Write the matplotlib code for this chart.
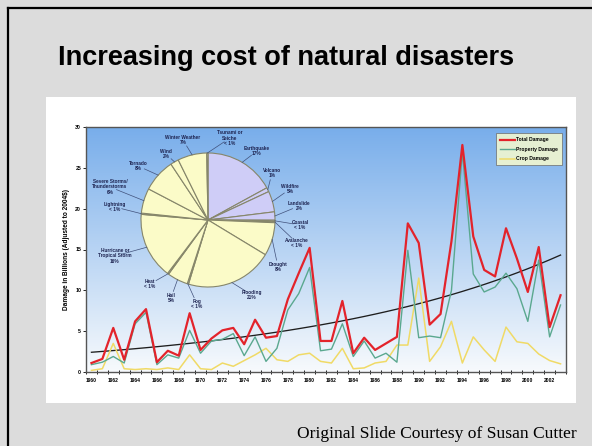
import matplotlib
matplotlib.use("Agg")
import matplotlib.pyplot as plt
import numpy as np
from matplotlib.patches import Rectangle
from matplotlib.lines import Line2D

# data
years = list(range(1960, 2004))
total_damage = [1.1, 1.6, 5.4, 1.5, 6.2, 7.7, 1.2, 2.6, 2.0, 7.2,
                2.7, 4.1, 5.1, 5.4, 3.4, 6.4, 4.2, 4.4, 8.9, 12.1,
                15.2, 3.8, 3.8, 8.7, 2.3, 4.2, 2.7, 3.5, 4.3, 18.2,
                15.8, 5.8, 7.1, 16.0, 27.8, 16.6, 12.5, 11.7, 17.6, 13.9,
                9.8, 15.3, 5.5, 9.4]
property_damage = [0.9, 1.2, 1.9, 1.1, 5.9, 7.3, 0.9, 2.1, 1.7, 5.1,
                   2.3, 3.8, 4.0, 4.7, 2.0, 4.3, 1.3, 2.9, 7.6, 9.6,
                   12.8, 2.6, 2.8, 5.9, 1.9, 3.8, 1.7, 2.3, 1.2, 14.9,
                   4.2, 4.4, 4.2, 10.0, 27.0, 12.0, 9.8, 10.4, 12.1, 10.2,
                   6.2, 13.7, 4.3, 8.2]
crop_damage = [0.2, 0.4, 3.5, 0.4, 0.3, 0.4, 0.3, 0.5, 0.3, 2.1,
               0.4, 0.3, 1.1, 0.7, 1.4, 2.1, 2.9, 1.5, 1.3, 2.1,
               2.3, 1.3, 1.1, 2.9, 0.4, 0.5, 1.1, 1.3, 3.3, 3.3,
               11.5, 1.3, 3.1, 6.2, 1.1, 4.3, 2.7, 1.3, 5.5, 3.7,
               3.5, 2.2, 1.4, 1.0]

hazards = ["Earthquake\n17%", "Volcano\n1%", "Wildfire\n5%", "Landslide\n2%",
           "Coastal\n< 1%", "Avalanche\n< 1%", "Drought\n8%", "Flooding\n21%",
           "Fog\n< 1%", "Hail\n5%", "Heat\n< 1%",
           "Hurricane or\nTropical Storm\n16%", "Lightning\n< 1%",
           "Severe Storms/\nThunderstorms\n6%", "Tornado\n8%", "Wind\n2%",
           "Winter Weather\n7%", "Tsunami or\nSeiche\n< 1%"]
hazard_share = [17, 1, 5, 2, 0.3, 0.3, 8, 21, 0.3, 5, 0.3, 16, 0.3, 6, 8, 2, 7, 0.3]
geologic = [True] * 5 + [False] * 13

# label centres on the slide, in pixels from the top left
label_xy = [(257, 151), (272, 173), (290, 189), (299, 206), (300, 225),
            (297, 243), (278, 267), (252, 295), (197, 304), (171, 298),
            (150, 284), (115, 256), (115, 207), (110, 187), (138, 166),
            (166, 154), (183, 140), (230, 138)]

W, H = 592, 446
fig = plt.figure(figsize=(W / 100, H / 100), dpi=100)
fig.patch.set_facecolor("#dcdcdc")

# slide frame and white picture box
fig.add_artist(Line2D([8 / W, 8 / W], [0, 1 - 8 / H], transform=fig.transFigure,
                      color="black", lw=1.6))
fig.add_artist(Line2D([8 / W, 1], [1 - 8 / H, 1 - 8 / H], transform=fig.transFigure,
                      color="black", lw=1.6))
fig.add_artist(Rectangle((46 / W, 1 - 403 / H), 530 / W, 306 / H,
                         transform=fig.transFigure, facecolor="white",
                         edgecolor="none", zorder=0))

fig.text(58 / W, 1 - 65 / H, "Increasing cost of natural disasters",
         family="Liberation Sans", weight="bold", fontsize=19.5,
         ha="left", va="baseline")
fig.text(577 / W, 1 - 438 / H, "Original Slide Courtesy of Susan Cutter",
         family="Liberation Serif", fontsize=12.6, ha="right", va="baseline")

small = ["Liberation Sans Narrow", "Liberation Sans", "DejaVu Sans"]

ax = fig.add_axes([86 / W, 1 - 372 / H, 480 / W, 245 / H])
x = np.arange(len(years))
ax.set_xlim(-0.5, len(years) - 0.5)
ax.set_ylim(0, 30)

grad = np.linspace(0, 1, 256).reshape(-1, 1)
top = np.array([0.47, 0.68, 0.92])
bottom = np.array([0.97, 0.98, 0.99])
img = bottom + (top - bottom) * grad[..., None]
ax.imshow(img, extent=(-0.5, len(years) - 0.5, 0, 30), origin="lower",
          aspect="auto", zorder=0)

# exponential trend fitted to total damage
k, b = np.polyfit(x, np.log(total_damage), 1)
ax.plot(x, np.exp(b + k * x), color="#1e1e1e", lw=0.95, zorder=2)
ax.plot(x, crop_damage, color="#f0da66", lw=1.1, zorder=3, label="Crop Damage")
ax.plot(x, property_damage, color="#5aa88f", lw=1.0, zorder=4, label="Property Damage")
ax.plot(x, total_damage, color="#e3232b", lw=1.6, zorder=5, label="Total Damage")

ax.set_yticks(range(0, 31, 5))
ax.set_yticklabels([str(v) for v in range(0, 31, 5)], family=small,
                   weight="bold", fontsize=3.7)
ax.set_xticks(x[::2])
ax.set_xticklabels([str(y) for y in years[::2]], family=small,
                   weight="bold", fontsize=3.6)
ax.tick_params(axis="x", length=0, pad=4)
ax.tick_params(axis="y", length=2, width=0.6, pad=1.5)
ax.set_xticks(np.arange(-0.5, len(years), 1), minor=True)
ax.tick_params(axis="x", which="minor", length=2.5, width=0.6, direction="inout")
for s in ax.spines.values():
    s.set_color("#555555")
    s.set_linewidth(1.0)
ax.set_ylabel("Damage in Billions (Adjusted to 2004$)", family=small,
              weight="bold", fontsize=4.7, labelpad=4)

handles, labels = ax.get_legend_handles_labels()
leg = ax.legend(handles[::-1], labels[::-1], loc="upper right",
                bbox_to_anchor=(0.997, 0.984), prop={"family": small,
                "weight": "bold", "size": 3.6}, frameon=True, fancybox=False,
                handlelength=3.0, borderpad=0.8, labelspacing=0.9,
                handletextpad=0.3)
leg.get_frame().set_facecolor("#ffffcc")
leg.get_frame().set_edgecolor("#666666")
leg.get_frame().set_linewidth(0.6)

# pie overlay drawn in slide pixel coordinates
pax = fig.add_axes([0, 0, 1, 1], zorder=10)
pax.patch.set_visible(False)
cx, cy, r = 208, H - 220, 67
colors = ["#cfcdf7" if g else "#fbfbc8" for g in geologic]
wedges, _ = pax.pie(hazard_share, colors=colors, startangle=90,
                    counterclock=False, center=(cx, cy), radius=r,
                    wedgeprops={"edgecolor": "#86866a", "linewidth": 0.8})
pax.set_xlim(0, W)
pax.set_ylim(0, H)
pax.set_aspect("auto")
pax.axis("off")

for w, txt, (lx, ly) in zip(wedges, hazards, label_xy):
    mid = np.deg2rad((w.theta1 + w.theta2) / 2)
    ex, ey = cx + r * np.cos(mid), cy + r * np.sin(mid)
    ly = H - ly
    d = np.hypot(ex - lx, ey - ly)
    sx, sy = lx + (ex - lx) * 7 / d, ly + (ey - ly) * 7 / d
    pax.plot([sx, ex], [sy, ey], color="#40507a", lw=0.5)
    pax.text(lx, ly, txt, ha="center", va="center", family=small,
             weight="bold", fontsize=3.4, color="#1d2350", linespacing=1.05)

fig.savefig("out.png", dpi=100, facecolor=fig.get_facecolor())
